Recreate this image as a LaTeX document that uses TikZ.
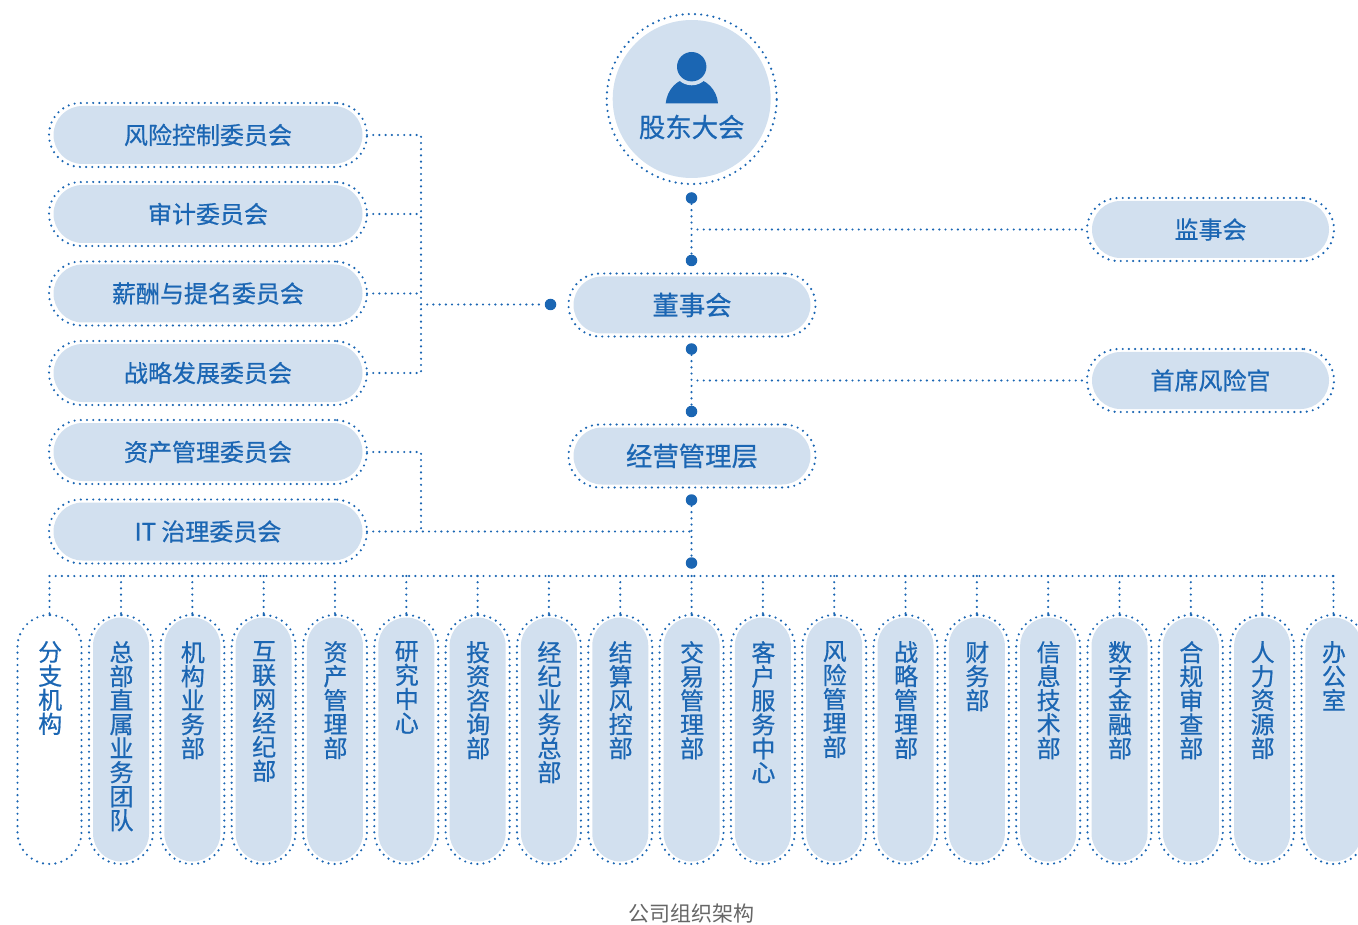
\documentclass[tikz,border=0pt]{standalone}
\usepackage{fontspec}
\setmainfont{Noto Sans CJK SC}
\newfontfamily\heavyfont[FakeBold=0.6]{Noto Sans CJK SC}
\usetikzlibrary{calc}
\definecolor{deepblue}{HTML}{1B66B3}
\definecolor{paleblue}{HTML}{D2E0EF}
\definecolor{capgray}{HTML}{666666}
\newcommand{\pt}[1]{\heavyfont\fontsize{#1}{#1}\selectfont}
\begin{document}
\begin{tikzpicture}[
      x=1pt,y=-1pt,
      dotline/.style={draw=deepblue,line width=2.4pt,line cap=round,dash pattern=on 0pt off 6.2pt},
      ring/.style={dotline,rectangle,inner sep=0,outer sep=0},
      pill/.style={fill=paleblue,rectangle,inner sep=0,text=deepblue},
      sidering/.style={ring,minimum width=318,minimum height=64,rounded corners=32},
      sidepill/.style={pill,minimum width=309,minimum height=58,rounded corners=29,font=\pt{24}},
      midring/.style={ring,minimum width=247,minimum height=63,rounded corners=31.5},
      midpill/.style={pill,minimum width=237,minimum height=57,rounded corners=28.5,font=\pt{26.4}},
      rightpill/.style={midpill,font=\pt{24}},
      deptring/.style={ring,minimum width=64,minimum height=249,rounded corners=32},
      deptpill/.style={pill,minimum width=56,minimum height=244,rounded corners=28},
      depttext/.style={inner sep=0,anchor=north,align=center,text=deepblue,font=\pt{24}},
      ball/.style={circle,fill=deepblue,minimum size=11.5,inner sep=0}
    ]
    \useasboundingbox (0,0) rectangle (1358,925);

    % shareholders
    \node (meeting) at (691.7,99) [circle,dotline,minimum size=170,inner sep=0] {};
    \node (meetingfill) at (meeting) [circle,fill=paleblue,minimum size=158,inner sep=0] {};
    \fill[deepblue] (665.7,103.3) .. controls (667,90) and (677,78) .. (691.7,78)
      .. controls (706,78) and (717,90) .. (718,103.3) -- cycle;
    \fill[paleblue] (691.7,66.7) circle (18.6);
    \fill[deepblue] (691.7,66.7) circle (14.7);
    \node (meetingtext) at (691.7,127) [inner sep=0,text=deepblue,font=\pt{26.4}] {股东大会};

    % committees
    \begin{scope}[every node/.style={sidering}]
      \node (risk) at (208,135  ) {};
      \node (audit) at (208,214  ) {};
      \node (pay) at (208,293.5) {};
      \node (plan) at (208,373  ) {};
      \node (asset) at (208,452  ) {};
      \node (it) at (208,531.5) {};
    \end{scope}
    \begin{scope}[every node/.style={sidepill}]
      \node (risktext) at (risk) {风险控制委员会};
      \node (audittext) at (audit) {审计委员会};
      \node (paytext) at (pay) {薪酬与提名委员会};
      \node (plantext) at (plan) {战略发展委员会};
      \node (assettext) at (asset) {资产管理委员会};
      \node (ittext) at (it) {IT 治理委员会};
    \end{scope}

    % middle and right column
    \begin{scope}[every node/.style={midring}]
      \node (board) at (692,305) {};
      \node (mgmt) at (692,456) {};
      \node (super) at (1210.5,229.5) {};
      \node (cro) at (1210.5,380.5) {};
    \end{scope}
    \node (boardtext) at (board) [midpill] {董事会};
    \node (mgmttext) at (mgmt) [midpill] {经营管理层};
    \node (supertext) at (super) [rightpill] {监事会};
    \node (crotext) at (cro) [rightpill] {首席风险官};

    % balls
    \begin{scope}[every node/.style={ball}]
      \node (b1) at (691.5,198) {};
      \node (b2) at (691.5,260.5) {};
      \node (b3) at (691.5,349) {};
      \node (b4) at (691.5,411.5) {};
      \node (b5) at (691.5,500) {};
      \node (b6) at (691.5,563) {};
      \node (bl) at (550.5,304.5) {};
    \end{scope}

    % departments
    \node (d1) at (49.5,739.5) [deptring] {};
    \node (d1text) at (50.2,641) [depttext] {分\\支\\机\\构};
    \foreach \name [count=\i from 2] in {
      总\\部\\直\\属\\业\\务\\团\\队,
      机\\构\\业\\务\\部,
      互\\联\\网\\经\\纪\\部,
      资\\产\\管\\理\\部,
      研\\究\\中\\心,
      投\\资\\咨\\询\\部,
      经\\纪\\业\\务\\总\\部,
      结\\算\\风\\控\\部,
      交\\易\\管\\理\\部,
      客\\户\\服\\务\\中\\心,
      风\\险\\管\\理\\部,
      战\\略\\管\\理\\部,
      财\\务\\部,
      信\\息\\技\\术\\部,
      数\\字\\金\\融\\部,
      合\\规\\审\\查\\部,
      人\\力\\资\\源\\部,
      办\\公\\室}
    {
      \pgfmathsetmacro\px{49.7+71.32*(\i-1)}
      \node (d\i) at (\px,739.5) [deptring] {};
      \node (d\i fill) at (d\i) [deptpill] {};
      \node (d\i text) at ($(\px,641)+(0.5,0)$) [depttext] {\name};
    }

    % connectors
    \coordinate (lbus) at (421,304.5);
    \coordinate (busl) at (49.5,576);
    \coordinate (busr) at (1335,576);
    \path[dotline]
      (risk.east) -| (lbus)
      (plan.east) -| (lbus)
      (audit.east) -- (lbus |- audit)
      (pay.east) -- (lbus |- pay)
      (lbus) -- (bl)
      (b1) -- (b2)
      (b3) -- (b4)
      (b5) -- (b6)
      ($(b1 |- super)+(6,0)$) -- (super.west)
      ($(b3 |- cro)+(6,0)$) -- (cro.west)
      (it.east) -- (b5 |- it)
      (asset.east) -| (lbus |- it)
      (busl) -- (busr);
    \foreach \i in {1,...,19} {
      \path[dotline] (d\i.north |- busl) -- (d\i.north);
    }

    \node (caption) at (691,914) [inner sep=0,text=capgray,font=\fontsize{21}{21}\selectfont] {公司组织架构};
  \end{tikzpicture}
\end{document}
